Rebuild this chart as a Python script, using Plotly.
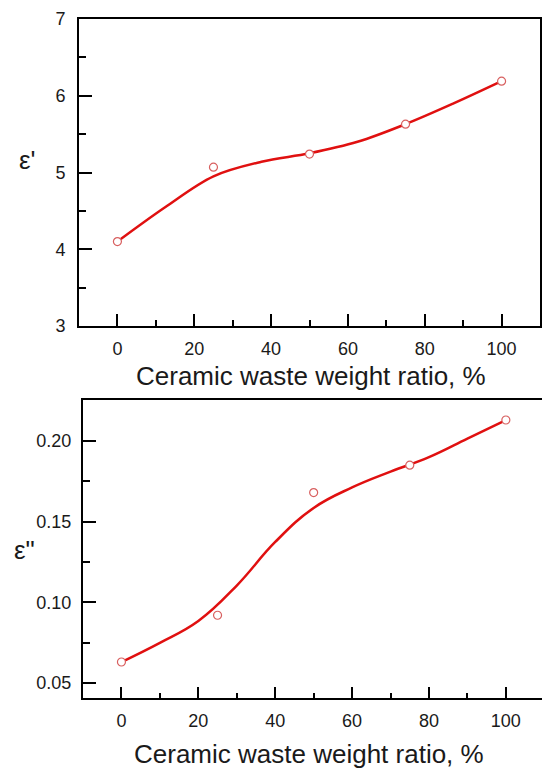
import plotly.graph_objects as go

# Measured dielectric data vs. ceramic waste content
ratio = [0, 25, 50, 75, 100]
eps_real = [4.10, 5.07, 5.24, 5.63, 6.19]
eps_imag = [0.063, 0.092, 0.168, 0.185, 0.213]

# Smoothed trend curves (fitted), sampled along the ratio axis
fit_ratio_real = [0, 12.5, 25, 37.5, 50, 62.5, 75, 87.5, 100]
fit_real = [4.10, 4.55, 4.95, 5.14, 5.25, 5.40, 5.63, 5.90, 6.19]

fit_ratio_imag = [0, 10, 20, 30, 40, 50, 60, 70, 80, 90, 100]
fit_imag = [0.063, 0.0749, 0.0884, 0.1104, 0.1374, 0.1585, 0.1712, 0.1810, 0.1900, 0.2015, 0.213]

x_ticks = [0, 20, 40, 60, 80, 100]
real_ticks = [3, 4, 5, 6, 7]
imag_ticks = [0.05, 0.10, 0.15, 0.20]

W, H = 542, 769
FONT = "Liberation Sans, Arial, sans-serif"
LINE_RED = "#e01010"
MARK_RED = "#d86060"


def px(x):
    return x / W


def py(y):
    return 1 - y / H


fig = go.Figure()

panels = [
    ("x", "y", fit_ratio_real, fit_real, eps_real, 1.0),
    ("x2", "y2", fit_ratio_imag, fit_imag, eps_imag, 1.2),
]
for xa, ya, fx, fy, pts, smooth in panels:
    fig.add_trace(go.Scatter(
        x=fx, y=fy, xaxis=xa, yaxis=ya, mode="lines",
        line=dict(color=LINE_RED, width=2.5, shape="spline", smoothing=smooth),
        hoverinfo="skip", showlegend=False,
    ))
    fig.add_trace(go.Scatter(
        x=ratio, y=pts, xaxis=xa, yaxis=ya, mode="markers",
        marker=dict(symbol="circle", size=8, color="white",
                    line=dict(color=MARK_RED, width=1.2)),
        showlegend=False,
    ))

axis_common = dict(
    showgrid=False, zeroline=False, showline=True, linecolor="black", linewidth=2,
    ticks="inside", tickcolor="black", tickwidth=2, automargin=False,
    tickfont=dict(family=FONT, size=18, color="#1a1a1a"),
)

fig.update_layout(
    width=W, height=H,
    margin=dict(l=0, r=0, t=0, b=0, autoexpand=False),
    paper_bgcolor="white", plot_bgcolor="white",
    xaxis=dict(
        **axis_common, domain=[px(79), px(540)], range=[-10, 110], anchor="y",
        tickvals=x_ticks, ticklen=12, mirror=True, ticklabelstandoff=5,
        minor=dict(dtick=10, tick0=0, ticks="inside", ticklen=6, tickwidth=2, tickcolor="black"),
    ),
    yaxis=dict(
        **axis_common, domain=[py(326), py(19)], range=[3, 7], anchor="x",
        tickvals=real_ticks, ticklen=13, mirror=True, ticklabelstandoff=8,
        minor=dict(dtick=0.5, tick0=3, ticks="inside", ticklen=7, tickwidth=2, tickcolor="black"),
    ),
    xaxis2=dict(
        **axis_common, domain=[px(83), 1.0], range=[-10, 109.4], anchor="y2",
        tickvals=x_ticks, ticklen=11, mirror=True, ticklabelstandoff=5,
        minor=dict(dtick=10, tick0=0, ticks="inside", ticklen=5, tickwidth=2, tickcolor="black"),
    ),
    yaxis2=dict(
        **axis_common, domain=[py(698), py(400)], range=[0.0407, 0.2254], anchor="x2",
        tickvals=imag_ticks, tickformat=".2f", ticklen=13, mirror=False, ticklabelstandoff=6,
        minor=dict(dtick=0.025, tick0=0.05, ticks="inside", ticklen=7, tickwidth=2, tickcolor="black"),
    ),
)

title_font = dict(family=FONT, size=26, color="#1a1a1a")
eps_font = dict(family=FONT, size=26, color="#1a1a1a")
fig.add_annotation(text="Ceramic waste weight ratio, %", x=px(311), y=py(376),
                   xref="paper", yref="paper", showarrow=False, font=title_font,
                   xanchor="center", yanchor="middle")
fig.add_annotation(text="Ceramic waste weight ratio, %", x=px(309), y=py(754),
                   xref="paper", yref="paper", showarrow=False, font=title_font,
                   xanchor="center", yanchor="middle")
fig.add_annotation(text="ε'", x=px(27), y=py(160),
                   xref="paper", yref="paper", showarrow=False, font=eps_font,
                   xanchor="center", yanchor="middle")
fig.add_annotation(text="ε\"", x=px(24), y=py(550),
                   xref="paper", yref="paper", showarrow=False, font=eps_font,
                   xanchor="center", yanchor="middle")

fig.write_html("out.html")
